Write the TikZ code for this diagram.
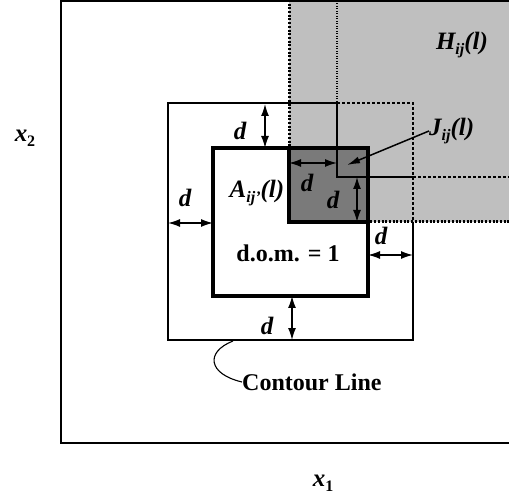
\documentclass[tikz,border=0pt]{standalone}
\usepackage{fontspec}
\setmainfont{Liberation Serif}
\usetikzlibrary{arrows.meta}
\newcommand{\lsub}[1]{\raisebox{-0.45ex}{\fontsize{16}{16}\selectfont #1}}
\begin{document}
\begin{tikzpicture}[x=1pt,y=-1pt,
  lbl/.style={font=\fontsize{25}{28}\selectfont\bfseries\itshape, inner sep=0pt},
  txt/.style={font=\fontsize{24}{28}\selectfont\bfseries, inner sep=0pt},
  axislbl/.style={font=\fontsize{25}{28}\selectfont\bfseries\itshape, inner sep=0pt},
  dbl/.style={{Latex[length=12pt,width=8pt]}-{Latex[length=12pt,width=8pt]}, line width=1.4pt},
  frameline/.style={line width=1.3pt},
  thinline/.style={line width=1.1pt},
  thickline/.style={line width=3.2pt},
  hborder/.style={line width=3pt, dash pattern=on 2pt off 1.7pt},
  dashline/.style={line width=1.1pt, dash pattern=on 3pt off 2pt},
  dotline/.style={line width=1.1pt, dash pattern=on 1pt off 1.5pt},
  lightshade/.style={fill=black!25},
  darkshade/.style={fill=black!52}]
\useasboundingbox (0,0) rectangle (509,497);
% shaded region H
\fill[lightshade] (289,0) rectangle (509,222);
% outer frame
\draw[frameline] (509,1) -- (61,1) -- (61,443) -- (509,443);
% H border
\draw[hborder] (289,0) -- (289,222) -- (509,222);
% inner lines of H
\draw[dotline] (337,1) -- (337,103);
\draw[dashline] (337,103) -- (413,103) -- (413,222);
\draw[dashline] (413,177) -- (509,177);
% contour line
\draw[thinline] (289,103) -- (168,103) -- (168,340) -- (413,340) -- (413,222);
% A square
\draw[thickline] (213,148) rectangle (368,296);
% J dark region
\filldraw[darkshade, thickline] (289,148) rectangle (368,222);
\draw[thinline] (289,103) -- (337,103) -- (337,177) -- (413,177);
% d arrows
\coordinate (t1) at (265,104); \coordinate (t2) at (265,148);
\coordinate (l1) at (168,223); \coordinate (l2) at (213,223);
\coordinate (b1) at (292,296); \coordinate (b2) at (292,340);
\coordinate (r1) at (368,255); \coordinate (r2) at (413,255);
\coordinate (j1) at (289,163); \coordinate (j2) at (337,163);
\coordinate (k1) at (357,177); \coordinate (k2) at (357,222);
\draw[dbl] (t1) -- (t2);
\draw[dbl] (l1) -- (l2);
\draw[dbl] (b1) -- (b2);
\draw[dbl] (r1) -- (r2);
\draw[dbl] (j1) -- (j2);
\draw[dbl] (k1) -- (k2);
\node[lbl] (dt) at (240,131) {d};
\node[lbl] (dl) at (185,198) {d};
\node[lbl] (db) at (267,326) {d};
\node[lbl] (dr) at (381,236) {d};
\node[lbl] (dj) at (307,183) {d};
\node[lbl] (dk) at (333,200) {d};
% labels
\node[lbl] (H) at (462,45) {H\lsub{ij}(l)};
\node[lbl, anchor=west] (J) at (429,131) {J\lsub{ij}(l)};
\coordinate (jtip) at (347,165);
\draw[line width=1.5pt, -{Latex[length=13pt,width=7pt]}] (J.west) -- (jtip);
\node[lbl] (A) at (257,193) {A\lsub{ij\/\textquoteright}(l)};
\node[txt] (dom) at (288,253) {d.o.m. = 1};
\node[txt, anchor=west] (cl) at (242,382) {Contour Line};
\coordinate (clstart) at (233,341);
\draw[thinline] (clstart) .. controls (205,352) and (208,374) .. (cl.west);
\node[axislbl] (x2) at (25,138) {x\lsub{\upshape 2}};
\node[axislbl] (x1) at (323,483) {x\lsub{\upshape 1}};
\end{tikzpicture}
\end{document}
